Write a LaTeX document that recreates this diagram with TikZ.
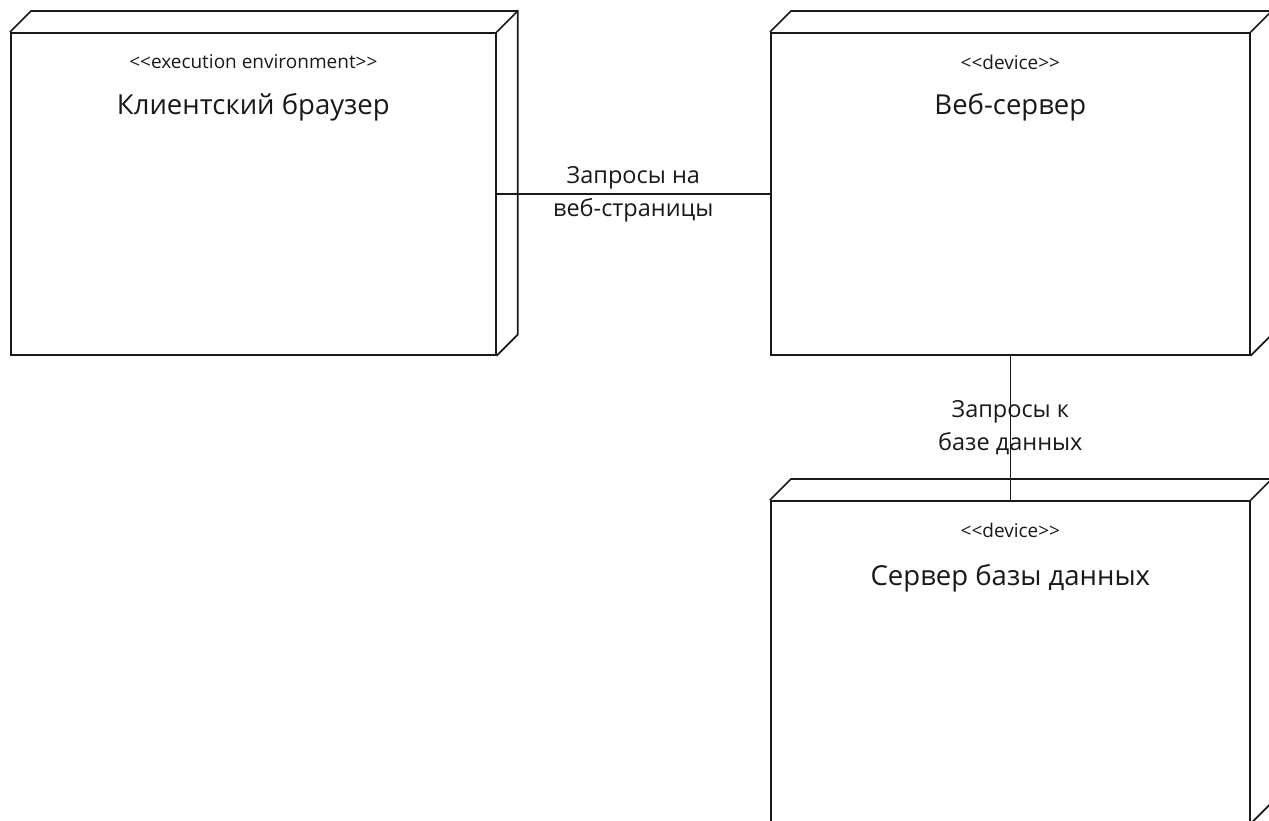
\documentclass[tikz,border=0pt]{standalone}
\usepackage{fontspec}
\setmainfont{Open Sans}
\begin{document}
\begin{tikzpicture}[x=1pt,y=-1pt,
  edge/.style={draw=black!90, line width=1.7pt, line join=miter},
  face/.style={edge, anchor=north west, inner sep=0pt,
    minimum width=479pt, minimum height=322pt},
  stereo/.style={font=\fontsize{19}{22}\selectfont, text=black!90},
  nodename/.style={font=\fontsize{27.5}{32}\selectfont, text=black!90},
  linklabel/.style={font=\fontsize{23.5}{33}\selectfont, text=black!90, align=center, inner sep=0pt},
]
\useasboundingbox (0,0) rectangle (1269,820);
\clip (0,0) rectangle (1269,820);

% front faces of the three nodes
\node[face, minimum width=485pt] (browser) at (10,32) {};
\node[face] (web) at (770,32) {};
\node[face] (db) at (770,500) {};

% 3D depth: top and right side of each node
\foreach \n in {browser,web,db}{
  \draw[edge] (\n.north west) -- ([shift={(21,-21)}]\n.north west)
    -- ([shift={(21,-21)}]\n.north east)
    -- ([shift={(21,-21)}]\n.south east) -- (\n.south east);
  \draw[edge] (\n.north east) -- ([shift={(21,-21)}]\n.north east);
}

% stereotypes and names
\node[stereo] (browserst) at ([yshift=-30pt]browser.north) {<{}<execution environment>{}>};
\node[nodename] (browsernm) at ([yshift=-75pt]browser.north) {Клиентский браузер};
\node[stereo] (webst) at ([yshift=-30pt]web.north) {<{}<device>{}>};
\node[nodename] (webnm) at ([yshift=-75pt]web.north) {Веб-сервер};
\node[stereo] (dbst) at ([yshift=-30pt]db.north) {<{}<device>{}>};
\node[nodename] (dbnm) at ([yshift=-78pt]db.north) {Сервер базы данных};

% communication paths
\draw[edge] (browser.east) -- node[linklabel] (l1) {Запросы на\\веб-страницы} (web.west);
\draw[edge] (web.south) -- node[linklabel] (l2) {Запросы к\\базе данных} (db.north);
\end{tikzpicture}
\end{document}
